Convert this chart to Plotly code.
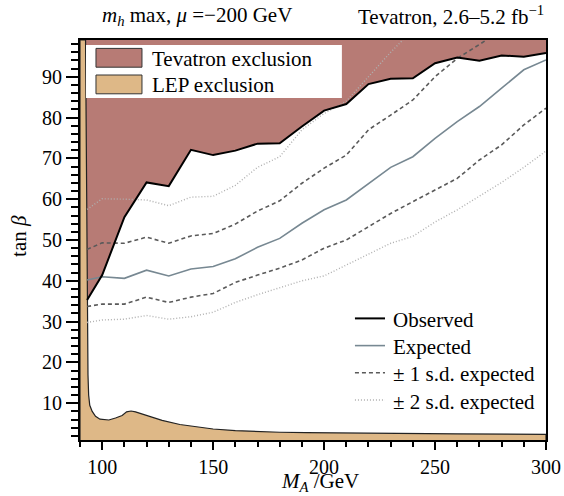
import plotly.graph_objects as go

FONT = "Liberation Serif, Times New Roman, serif"

# ---------------- data ----------------
ma_grid = [93.2, 100, 110, 120, 130, 140, 150, 160, 170, 180, 190, 200,
           210, 220, 230, 240, 250, 260, 270, 280, 290, 300]

observed = [35.3, 41.4, 55.6, 64.1, 63.2, 72.1, 70.8, 71.9, 73.6, 73.7, 77.8, 81.7,
            83.3, 88.2, 89.5, 89.6, 93.3, 94.7, 93.9, 95.2, 94.9, 95.8]

expected = [40.2, 41.0, 40.6, 42.6, 41.2, 42.9, 43.5, 45.4, 48.2, 50.4, 54.1, 57.4,
            59.8, 63.9, 67.8, 70.4, 74.9, 79.0, 82.7, 87.2, 91.7, 94.1]

minus1sd = [33.7, 34.3, 34.3, 36.0, 34.7, 36.0, 36.9, 39.6, 41.4, 43.1, 45.1, 48.0,
            50.0, 53.3, 56.5, 59.4, 62.3, 65.1, 69.6, 73.3, 78.2, 82.3]

plus1sd_x = [93.2, 100, 110, 120, 130, 140, 150, 160, 170, 180, 190, 200,
             210, 220, 230, 240, 250, 260, 270, 280]
plus1sd = [47.7, 49.3, 49.2, 50.7, 49.2, 51.0, 51.6, 53.9, 57.1, 59.6, 63.9, 67.6,
           70.8, 77.0, 80.6, 84.3, 90.0, 94.5, 97.9, 101.5]

minus2sd = [29.8, 30.4, 30.6, 31.5, 30.6, 31.2, 32.3, 34.7, 36.6, 38.3, 40.0, 41.2,
            43.9, 46.7, 49.2, 50.9, 54.4, 57.4, 60.7, 64.1, 67.8, 71.8]

plus2sd_x = [93.2, 100, 110, 120, 130, 140, 150, 160, 170, 180, 190, 200,
             210, 220, 230, 240]
plus2sd = [57.5, 60.1, 60.0, 59.8, 58.4, 60.5, 60.7, 63.4, 67.8, 70.4, 77.0, 81.0,
           84.0, 90.0, 96.0, 101.5]

# LEP exclusion boundary (from top of the plot down and along the bottom)
lep_x = [92.5, 92.8, 93.1, 93.2, 93.4, 93.6, 93.9, 94.4, 95.5, 97.0, 99.0, 103.0,
         106.0, 109.0, 111.0, 113.0, 115.0, 120.0, 127.0, 135.0, 144.0, 150.0,
         160.0, 171.0, 180.0, 192.0, 225.0, 260.0, 300.0]
lep_y = [99.0, 70.0, 45.0, 35.0, 25.0, 17.0, 12.0, 9.5, 8.0, 6.8, 6.1, 5.9,
         6.4, 7.0, 7.9, 8.1, 7.9, 7.1, 5.8, 4.8, 4.1, 3.7,
         3.3, 3.0, 2.9, 2.8, 2.6, 2.5, 2.4]

x_range = [90, 300]
y_range = [1, 99]
x_ticks = [100, 150, 200, 250, 300]
y_ticks = [10, 20, 30, 40, 50, 60, 70, 80, 90]

fill_labels = ["Tevatron exclusion", "LEP exclusion"]
line_labels = ["Observed", "Expected", "± 1 s.d. expected", "± 2 s.d. expected"]

TEV_COLOR = "#b77b75"
LEP_COLOR = "#deb887"
OBS_STYLE = dict(color="black", width=2)
EXP_STYLE = dict(color="#778892", width=1.6)
SD1_STYLE = dict(color="#5a5a5a", width=1.6, dash="4px,3px")
SD2_STYLE = dict(color="#b0b0b0", width=1.4, dash="1px,2px")

fig = go.Figure()

# Tevatron exclusion: above the observed limit, right of the LEP strip
tev_x = ma_grid + [x_range[1], lep_x[0]] + [lep_x[1], lep_x[2]]
tev_y = observed + [y_range[1], y_range[1]] + [lep_y[1], lep_y[2]]
fig.add_trace(go.Scatter(x=tev_x, y=tev_y, fill="toself", fillcolor=TEV_COLOR,
                         mode="lines", line=dict(width=0), hoverinfo="skip"))

# LEP exclusion
lx = [x_range[0], x_range[0]] + lep_x + [x_range[1]]
ly = [y_range[0], y_range[1]] + lep_y + [y_range[0]]
fig.add_trace(go.Scatter(x=lx, y=ly, fill="toself", fillcolor=LEP_COLOR,
                         mode="lines", line=dict(width=1.2, color="#222222"),
                         hoverinfo="skip"))

fig.add_trace(go.Scatter(x=plus2sd_x + [None] + ma_grid, y=plus2sd + [None] + minus2sd,
                         mode="lines", name=line_labels[3], line=SD2_STYLE))
fig.add_trace(go.Scatter(x=plus1sd_x + [None] + ma_grid, y=plus1sd + [None] + minus1sd,
                         mode="lines", name=line_labels[2], line=SD1_STYLE))
fig.add_trace(go.Scatter(x=ma_grid, y=expected, mode="lines", name=line_labels[1],
                         line=EXP_STYLE))
fig.add_trace(go.Scatter(x=ma_grid, y=observed, mode="lines", name=line_labels[0],
                         line=OBS_STYLE))

# ---- upper-left legend box (fills) ----
fig.add_shape(type="rect", xref="paper", yref="paper", x0=0.0129, x1=0.562,
              y0=0.855, y1=0.9875, fillcolor="white", line=dict(width=0), layer="above")
for (yc, col, lab) in [(0.9555, TEV_COLOR, fill_labels[0]), (0.889, LEP_COLOR, fill_labels[1])]:
    fig.add_shape(type="rect", xref="paper", yref="paper", x0=0.0343, x1=0.133,
                  y0=yc - 0.0235, y1=yc + 0.0235, fillcolor=col,
                  line=dict(width=1, color="#333"), layer="above")
    fig.add_annotation(xref="paper", yref="paper", x=0.150, y=yc - 0.002, xanchor="left",
                       yanchor="middle", text=lab, showarrow=False,
                       font=dict(family=FONT, size=21, color="black"))

# ---- lower-right legend (lines) ----
for (yc, sty, lab) in [(0.304, OBS_STYLE, line_labels[0]), (0.236, EXP_STYLE, line_labels[1]),
                       (0.168, SD1_STYLE, line_labels[2]), (0.100, SD2_STYLE, line_labels[3])]:
    fig.add_shape(type="line", xref="paper", yref="paper", x0=0.590, x1=0.6545,
                  y0=yc, y1=yc, line=sty, layer="above")
    fig.add_annotation(xref="paper", yref="paper", x=0.668, y=yc - 0.004, xanchor="left",
                       yanchor="middle", text=lab, showarrow=False,
                       font=dict(family=FONT, size=21, color="black"))

# ---- header texts ----
fig.add_annotation(xref="paper", yref="paper", x=0.043, y=1.06, xanchor="left",
                   yanchor="middle", showarrow=False,
                   text="<i>m</i><sub><i>h</i></sub> max, <i>μ</i> =−200 GeV",
                   font=dict(family=FONT, size=21, color="black"))
fig.add_annotation(xref="paper", yref="paper", x=1.0, y=1.06, xanchor="right",
                   yanchor="middle", showarrow=False,
                   text="Tevatron, 2.6–5.2 fb<sup>−1</sup>",
                   font=dict(family=FONT, size=21, color="black"))

# ---- axis titles ----
fig.add_annotation(xref="paper", yref="paper", x=0.515, y=-0.106, xanchor="center",
                   yanchor="middle", showarrow=False,
                   text="<i>M</i><sub><i>A</i></sub> /GeV",
                   font=dict(family=FONT, size=21, color="black"))
fig.add_annotation(xref="paper", yref="paper", x=-0.131, y=0.51, xanchor="center",
                   yanchor="middle", showarrow=False, textangle=-90,
                   text="tan <i>β</i>",
                   font=dict(family=FONT, size=21, color="black"))

axis_common = dict(showline=True, linecolor="black", linewidth=2, mirror=True,
                   showgrid=False, zeroline=False, ticks="outside",
                   tickcolor="black", tickwidth=1.5, automargin=False,
                   tickfont=dict(family=FONT, size=20, color="black"))

fig.update_xaxes(range=x_range, tickvals=x_ticks, ticklen=8,
                 minor=dict(dtick=10, tick0=0, ticklen=5, ticks="outside",
                            tickcolor="black", tickwidth=1.5),
                 **axis_common)
fig.update_yaxes(range=y_range, tickvals=y_ticks, ticklen=12,
                 minor=dict(dtick=2, tick0=0, ticklen=7, ticks="outside",
                            tickcolor="black", tickwidth=1.5),
                 **axis_common)

fig.update_layout(
    width=564, height=496,
    margin=dict(l=80, r=18, t=40, b=56),
    plot_bgcolor="white", paper_bgcolor="white",
    font=dict(family=FONT, size=20, color="black"),
    showlegend=False,
)

fig.write_html("out.html")
